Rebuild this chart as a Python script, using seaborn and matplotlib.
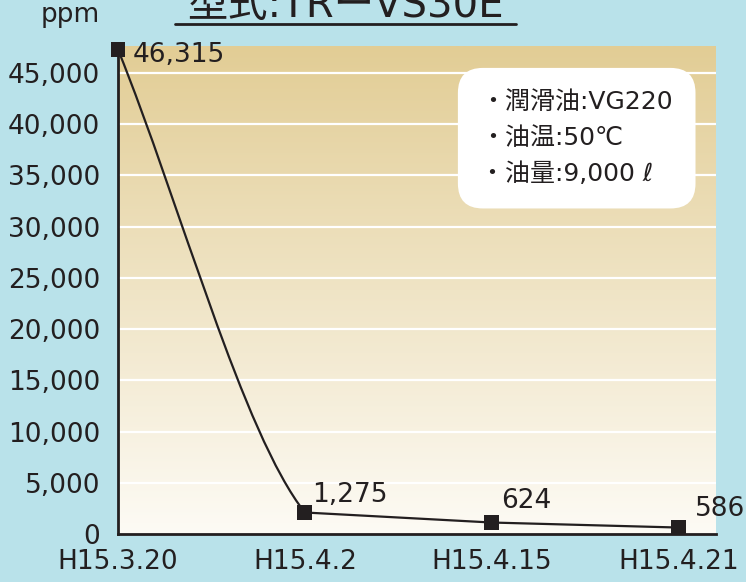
import numpy as np
import pandas as pd
import matplotlib.pyplot as plt
import matplotlib.colors as mcolors
import seaborn as sns
from matplotlib.path import Path
from matplotlib.patches import PathPatch
from matplotlib.lines import Line2D

sns.set_style("white")
plt.rcParams['font.family'] = ['DejaVu Sans', 'Noto Sans CJK JP']

# data
dates = ["H15.3.20", "H15.4.2", "H15.4.15", "H15.4.21"]
ppm_values = [47300, 2100, 1120, 630]      # marker heights as drawn
ppm_labels = ["46,315", "1,275", "624", "586"]
y_ticks = [0, 5000, 10000, 15000, 20000, 25000, 30000, 35000, 40000, 45000]
info_lines = ["・潤滑油:VG220", "・油温:50℃", "・油量:9,000 ℓ"]
title = "型式:TRーVS30E"

# label offsets in pixels (style only)
label_offsets = [(15, -6), (7, 17), (9, 22), (16, 19)]

INK = '#231f20'
BG = '#b9e2ea'

df = pd.DataFrame({'date': dates, 'pos': np.arange(len(dates), dtype=float),
                   'ppm': ppm_values, 'label': ppm_labels})

fig = plt.figure(figsize=(7.46, 5.82), dpi=100, facecolor=BG)
ax = fig.add_axes([118/746, 48/582, 598/746, 488/582])
ax.set_facecolor('none')

# vertical gradient behind the plot
top = np.array(mcolors.to_rgb('#e2cd95'))
bot = np.array(mcolors.to_rgb('#fdfbf5'))
t = np.linspace(0, 1, 256)[:, None]
grad = (bot * (1 - t) + top * t)[:, None, :]
ax.imshow(grad, extent=[0, 1, 0, 1], transform=ax.transAxes, origin='lower',
          aspect='auto', zorder=0)

# white grid lines
for v in y_ticks[1:]:
    ax.axhline(v, color='white', lw=1.6, zorder=1)

# smoothed first segment, straight afterwards
x = df['pos'].values
y = df['ppm'].values.astype(float)
verts = [(x[0], y[0]),
         (x[0] + (x[1] - x[0]) / 3, y[0] + (y[1] - y[0]) / 3),
         (x[1] - (x[2] - x[0]) / 6, y[1] - (y[2] - y[0]) / 6),
         (x[1], y[1])]
codes = [Path.MOVETO, Path.CURVE4, Path.CURVE4, Path.CURVE4]
for i in range(2, len(x)):
    verts.append((x[i], y[i]))
    codes.append(Path.LINETO)
ax.add_patch(PathPatch(Path(verts, codes), fc='none', ec=INK, lw=1.6, zorder=3))

sns.scatterplot(data=df, x='pos', y='ppm', marker='s', s=115, color=INK,
                edgecolor='none', zorder=5, clip_on=False, ax=ax, legend=False)

for (px, py, lab), off in zip(zip(x, y, ppm_labels), label_offsets):
    ax.annotate(lab, (px, py), xytext=off, textcoords='offset pixels',
                ha='left', va='center', fontsize=19, color=INK, zorder=6,
                annotation_clip=False)

ax.set_xlim(0, 3.2)
ax.set_ylim(0, 47640)
ax.set_xticks(x)
ax.set_xticklabels(dates)
ax.set_yticks(y_ticks)
ax.set_yticklabels([f"{v:,}" for v in y_ticks])
ax.tick_params(axis='both', length=0, labelsize=19, colors=INK)
ax.tick_params(axis='y', pad=13)
ax.tick_params(axis='x', pad=11)
ax.set_xlabel('')
ax.set_ylabel('')
for s in ['top', 'right']:
    ax.spines[s].set_visible(False)
for s in ['left', 'bottom']:
    ax.spines[s].set_color(INK)
    ax.spines[s].set_linewidth(2)
    ax.spines[s].set_zorder(4)

ax.text(-18/598, 1.05, "ppm", transform=ax.transAxes, ha='right',
        va='baseline', fontsize=19, color=INK)

ax.text(0.606, 0.909, "\n".join(info_lines), transform=ax.transAxes,
        ha='left', va='top', fontsize=18, linespacing=1.62, color=INK, zorder=7,
        bbox=dict(boxstyle='round,pad=0.9,rounding_size=1.0', fc='white', ec='none'))

# title, cut by the top edge, underlined
fig.text(345/746, 1 - 17/582, title, ha='center', va='baseline',
         fontsize=29, color=INK)
fig.add_artist(Line2D([175/746, 516/746], [1 - 24/582] * 2,
                      transform=fig.transFigure, color=INK, lw=2))

fig.savefig('out.png', dpi=100, facecolor=fig.get_facecolor())
